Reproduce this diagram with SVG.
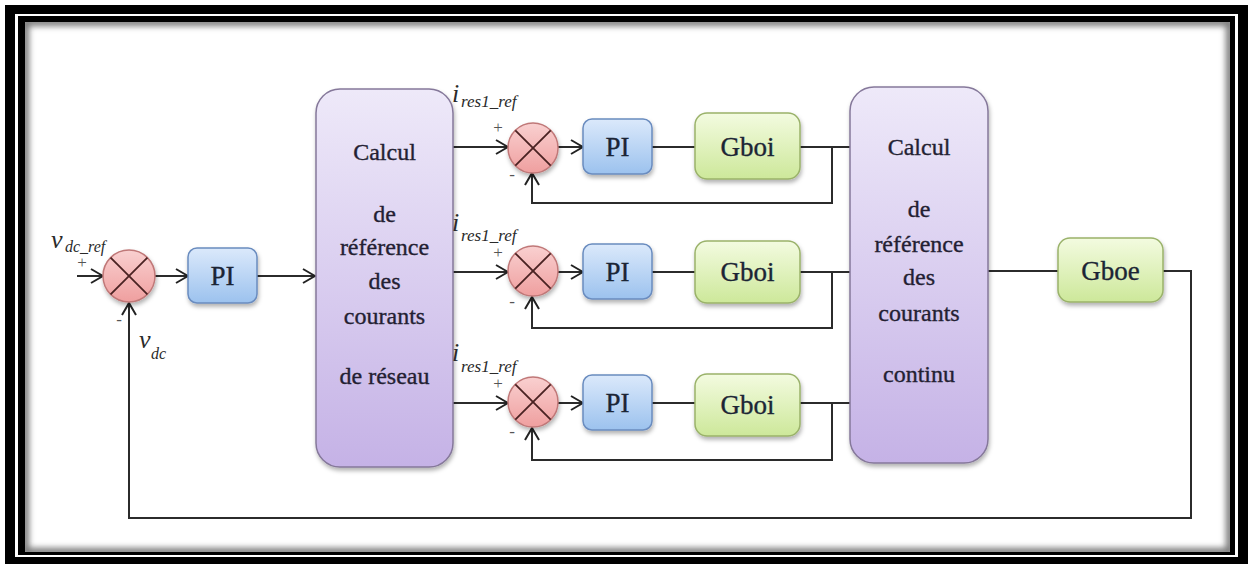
<svg xmlns="http://www.w3.org/2000/svg" width="1250" height="564" viewBox="0 0 1250 564">
  <style>
    text { font-family: "Liberation Serif", "Times New Roman", Times, "DejaVu Serif", serif; }
    .wire { fill: none; stroke: #2b2b2b; stroke-width: 2; }
    .lbl { fill: #241f33; stroke: #241f33; stroke-width: 0.35; }
    .big { font-size: 24px; text-anchor: middle; }
    .blk { font-size: 27px; text-anchor: middle; fill: #1b2535; stroke: #1b2535; }
    .it { font-style: italic; fill: #2a2a2a; }
    .sign { font-size: 17px; fill: #555; text-anchor: middle; }
    .calc { fill: url(#gPurple); stroke: #85789a; stroke-width: 1.5; filter: url(#shadow); }
    .pi { fill: url(#gBlue); stroke: #6a8cbf; stroke-width: 1.5; filter: url(#shadow); }
    .gb { fill: url(#gGreen); stroke: #9ab26a; stroke-width: 1.5; filter: url(#shadow); }
    .sum { fill: url(#gPink); stroke: #c07878; stroke-width: 1.5; filter: url(#shadow); }
    .cross { stroke: #4a2222; stroke-width: 1.8; }
  </style>
  <defs>
    <linearGradient id="gPurple" x1="0" y1="0" x2="0" y2="1">
      <stop offset="0" stop-color="#eee9f9"/>
      <stop offset="1" stop-color="#c5b2e6"/>
    </linearGradient>
    <linearGradient id="gBlue" x1="0" y1="0" x2="0" y2="1">
      <stop offset="0" stop-color="#dbe9fb"/>
      <stop offset="1" stop-color="#9cc2ee"/>
    </linearGradient>
    <linearGradient id="gGreen" x1="0" y1="0" x2="0" y2="1">
      <stop offset="0" stop-color="#f3fbe0"/>
      <stop offset="1" stop-color="#cde89a"/>
    </linearGradient>
    <linearGradient id="gPink" x1="0" y1="0" x2="0" y2="1">
      <stop offset="0" stop-color="#f9d0d0"/>
      <stop offset="1" stop-color="#ef9f9f"/>
    </linearGradient>
    <filter id="shadow" x="-20%" y="-20%" width="140%" height="150%">
      <feDropShadow dx="1" dy="3" stdDeviation="2" flood-color="#000" flood-opacity="0.3"/>
    </filter>
    <filter id="soft" x="-5%" y="-5%" width="110%" height="110%">
      <feGaussianBlur stdDeviation="3"/>
    </filter>
    <clipPath id="inside">
      <rect x="25" y="22" width="1205" height="530"/>
    </clipPath>
    <marker id="arr" viewBox="0 0 14 16" refX="13" refY="8" markerWidth="14" markerHeight="16" markerUnits="userSpaceOnUse" orient="auto">
      <path d="M1,1 L13,8 L1,15" fill="none" stroke="#222" stroke-width="2"/>
    </marker>
  </defs>

  <!-- page frame -->
  <rect width="1250" height="564" fill="#fff"/>
  <path d="M5,5 H1248 V564 H5 Z M15,14 V557 H1238 V14 Z" fill="#000" fill-rule="evenodd"/>
  <path d="M18,16 H1235 V555 H18 Z M25,22 V552 H1230 V22 Z" fill="#000" fill-rule="evenodd"/>
  <g clip-path="url(#inside)">
    <rect x="25" y="22" width="1205" height="530" fill="none" stroke="#777" stroke-width="8" filter="url(#soft)"/>
  </g>

  <!-- connectors -->
  <g id="connectors">
    <!-- outer DC voltage loop -->
    <line class="wire" x1="77" y1="276" x2="103" y2="276" marker-end="url(#arr)"/>
    <line class="wire" x1="155" y1="276" x2="188" y2="276" marker-end="url(#arr)"/>
    <line class="wire" x1="257" y1="276" x2="315" y2="276" marker-end="url(#arr)"/>
    <line class="wire" x1="988" y1="271" x2="1058" y2="271"/>
    <polyline class="wire" points="1163,271 1191,271 1191,518 129,518 129,303" marker-end="url(#arr)"/>

    <!-- current loop 1 -->
    <line class="wire" x1="453" y1="147" x2="508" y2="147" marker-end="url(#arr)"/>
    <line class="wire" x1="558" y1="147" x2="583" y2="147" marker-end="url(#arr)"/>
    <line class="wire" x1="652" y1="147" x2="695" y2="147"/>
    <line class="wire" x1="800" y1="147" x2="850" y2="147"/>
    <polyline class="wire" points="832,147 832,203 532,203 532,173" marker-end="url(#arr)"/>

    <!-- current loop 2 -->
    <line class="wire" x1="453" y1="272" x2="508" y2="272" marker-end="url(#arr)"/>
    <line class="wire" x1="558" y1="272" x2="583" y2="272" marker-end="url(#arr)"/>
    <line class="wire" x1="652" y1="272" x2="695" y2="272"/>
    <line class="wire" x1="800" y1="272" x2="850" y2="272"/>
    <polyline class="wire" points="832,272 832,328 532,328 532,297" marker-end="url(#arr)"/>

    <!-- current loop 3 -->
    <line class="wire" x1="453" y1="403" x2="508" y2="403" marker-end="url(#arr)"/>
    <line class="wire" x1="558" y1="403" x2="583" y2="403" marker-end="url(#arr)"/>
    <line class="wire" x1="652" y1="403" x2="695" y2="403"/>
    <line class="wire" x1="800" y1="403" x2="850" y2="403"/>
    <polyline class="wire" points="832,403 832,460 532,460 532,428" marker-end="url(#arr)"/>
  </g>

  <!-- DC voltage summing junction -->
  <g id="sum-vdc">
    <circle class="sum" cx="129" cy="276" r="26"/>
    <line class="cross" x1="110.6" y1="257.6" x2="147.4" y2="294.4"/>
    <line class="cross" x1="147.4" y1="257.6" x2="110.6" y2="294.4"/>
    <text class="it" x="51" y="248" font-size="26">v</text>
    <text class="it" x="65" y="252" font-size="16">dc_ref</text>
    <text class="sign" x="82" y="268">+</text>
    <text class="sign" x="119" y="325">-</text>
    <text class="it" x="139" y="348" font-size="26">v</text>
    <text class="it" x="151" y="359" font-size="16">dc</text>
  </g>

  <g id="pi-vdc">
    <rect class="pi" x="188" y="248" width="69" height="55" rx="9"/>
    <text class="lbl blk" x="222.5" y="285">PI</text>
  </g>

  <!-- grid current reference block -->
  <g id="calc-reseau">
    <rect class="calc" x="316" y="89" width="137" height="378" rx="24"/>
    <text class="lbl big" x="384.5" y="160">Calcul</text>
    <text class="lbl big" x="384.5" y="222">de</text>
    <text class="lbl big" x="384.5" y="255">référence</text>
    <text class="lbl big" x="384.5" y="289">des</text>
    <text class="lbl big" x="384.5" y="324">courants</text>
    <text class="lbl big" x="384.5" y="384">de réseau</text>
  </g>

  <!-- current loop 1 -->
  <g id="sum-i1">
    <circle class="sum" cx="533" cy="148" r="25"/>
    <line class="cross" x1="515.3" y1="130.3" x2="550.7" y2="165.7"/>
    <line class="cross" x1="550.7" y1="130.3" x2="515.3" y2="165.7"/>
    <text class="it" x="452" y="102" font-size="26">i</text>
    <text class="it" x="461" y="107" font-size="17">res1_ref</text>
    <text class="sign" x="498" y="133">+</text>
    <text class="sign" x="512" y="180">-</text>
  </g>
  <g id="pi-1">
    <rect class="pi" x="583" y="119" width="69" height="55" rx="9"/>
    <text class="lbl blk" x="617.5" y="156">PI</text>
  </g>
  <g id="gboi-1">
    <rect class="gb" x="695" y="113" width="105" height="66" rx="12"/>
    <text class="lbl blk" x="747.5" y="156">Gboi</text>
  </g>

  <!-- current loop 2 -->
  <g id="sum-i2">
    <circle class="sum" cx="533" cy="271" r="25"/>
    <line class="cross" x1="515.3" y1="253.3" x2="550.7" y2="288.7"/>
    <line class="cross" x1="550.7" y1="253.3" x2="515.3" y2="288.7"/>
    <text class="it" x="452" y="231" font-size="26">i</text>
    <text class="it" x="461" y="241" font-size="17">res1_ref</text>
    <text class="sign" x="498" y="258">+</text>
    <text class="sign" x="512" y="307">-</text>
  </g>
  <g id="pi-2">
    <rect class="pi" x="583" y="244" width="69" height="55" rx="9"/>
    <text class="lbl blk" x="617.5" y="281">PI</text>
  </g>
  <g id="gboi-2">
    <rect class="gb" x="695" y="241" width="105" height="62" rx="12"/>
    <text class="lbl blk" x="747.5" y="281">Gboi</text>
  </g>

  <!-- current loop 3 -->
  <g id="sum-i3">
    <circle class="sum" cx="533" cy="402" r="25"/>
    <line class="cross" x1="515.3" y1="384.3" x2="550.7" y2="419.7"/>
    <line class="cross" x1="550.7" y1="384.3" x2="515.3" y2="419.7"/>
    <text class="it" x="452" y="361" font-size="26">i</text>
    <text class="it" x="461" y="372" font-size="17">res1_ref</text>
    <text class="sign" x="498" y="389">+</text>
    <text class="sign" x="512" y="437">-</text>
  </g>
  <g id="pi-3">
    <rect class="pi" x="583" y="375" width="69" height="55" rx="9"/>
    <text class="lbl blk" x="617.5" y="412">PI</text>
  </g>
  <g id="gboi-3">
    <rect class="gb" x="695" y="374" width="105" height="62" rx="12"/>
    <text class="lbl blk" x="747.5" y="414">Gboi</text>
  </g>

  <!-- DC current reference block -->
  <g id="calc-continu">
    <rect class="calc" x="850" y="87" width="138" height="376" rx="24"/>
    <text class="lbl big" x="919" y="155">Calcul</text>
    <text class="lbl big" x="919" y="217">de</text>
    <text class="lbl big" x="919" y="252">référence</text>
    <text class="lbl big" x="919" y="285">des</text>
    <text class="lbl big" x="919" y="321">courants</text>
    <text class="lbl big" x="919" y="382">continu</text>
  </g>

  <g id="gboe">
    <rect class="gb" x="1058" y="238" width="105" height="64" rx="12"/>
    <text class="lbl blk" x="1110.5" y="280">Gboe</text>
  </g>
</svg>
